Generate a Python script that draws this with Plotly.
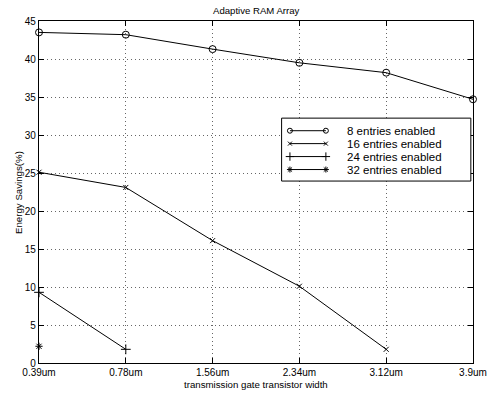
import plotly.graph_objects as go

widths = ["0.39um", "0.78um", "1.56um", "2.34um", "3.12um", "3.9um"]
s8 = [43.5, 43.2, 41.3, 39.5, 38.2, 34.7]
s16 = [25.1, 23.1, 16.1, 10.1, 1.8]
s24 = [9.3, 1.8]
s32 = [2.2]
names = ["8 entries enabled", "16 entries enabled", "24 entries enabled", "32 entries enabled"]
yticks = [0, 5, 10, 15, 20, 25, 30, 35, 40, 45]

symbols = ["circle-open", "x-thin-open", "cross-thin-open", "asterisk-open"]
sizes = [7, 5, 7, 6]
leg_sizes = [5, 4, 6, 5]
series = [s8, s16, s24, s32]
FONT = "Liberation Sans, Arial, Helvetica"

fig = go.Figure()
xpos = list(range(len(widths)))
for s, sym, sz, nm in zip(series, symbols, sizes, names):
    fig.add_trace(go.Scatter(
        x=xpos[:len(s)], y=s, mode="lines+markers", name=nm, showlegend=False,
        line=dict(color="black", width=1),
        marker=dict(symbol=sym, size=sz, color="black", line=dict(color="black", width=1)),
        cliponaxis=False,
    ))

# custom matlab-style legend drawn in an inset subplot (its white background hides the grid)
lx0, lx1, ltext = 0.044, 0.234, 0.34
rows = [0.80, 0.595, 0.389, 0.183]
for r, sym, sz, nm in zip(rows, symbols, leg_sizes, names):
    fig.add_trace(go.Scatter(
        x=[lx0, lx1], y=[r, r], xaxis="x2", yaxis="y2", mode="lines+markers", showlegend=False,
        line=dict(color="black", width=1),
        marker=dict(symbol=sym, size=sz, color="black", line=dict(color="black", width=1)),
        hoverinfo="skip", cliponaxis=False,
    ))
    fig.add_annotation(xref="x2", yref="y2", x=ltext, y=r, text=nm, showarrow=False,
                       xanchor="left", yanchor="middle", borderpad=0,
                       font=dict(family=FONT, size=11.5, color="black"))
fig.add_shape(type="rect", xref="paper", yref="paper", x0=0.559, x1=0.995, y0=0.532, y1=0.716,
              line=dict(color="black", width=1), fillcolor="rgba(0,0,0,0)", layer="above")

axis_common = dict(showline=True, linecolor="black", linewidth=1.2, mirror="ticks",
                   ticks="inside", ticklen=5, tickcolor="black", showgrid=True,
                   gridcolor="#666666", griddash="1px,3px", gridwidth=1, zeroline=False,
                   automargin=False,
                   tickfont=dict(family=FONT, size=10, color="black"))

fig.add_annotation(xref="paper", yref="paper", x=0.5, y=1.032, text="Adaptive RAM Array",
                   showarrow=False, xanchor="center", yanchor="middle",
                   font=dict(family=FONT, size=9.6, color="black"))
fig.add_annotation(xref="paper", yref="paper", x=0.5, y=-0.063,
                   text="transmission gate transistor width",
                   showarrow=False, xanchor="center", yanchor="middle",
                   font=dict(family=FONT, size=9.7, color="black"))
fig.add_annotation(xref="paper", yref="paper", x=-0.0484, y=0.5, text="Energy Savings(%)",
                   showarrow=False, xanchor="center", yanchor="middle", textangle=-90,
                   font=dict(family=FONT, size=9.7, color="black"))

fig.update_layout(
    width=489, height=393,
    margin=dict(l=39, r=16, t=21, b=30, autoexpand=False),
    paper_bgcolor="white", plot_bgcolor="white",
    xaxis=dict(range=[0, 5], tickvals=xpos, ticktext=widths, domain=[0, 1], **axis_common),
    yaxis=dict(range=[0, 45], tickvals=yticks, domain=[0, 1], **axis_common),
    xaxis2=dict(range=[0, 1], domain=[0.559, 0.995], visible=False, anchor="y2", fixedrange=True),
    yaxis2=dict(range=[0, 1], domain=[0.532, 0.716], visible=False, anchor="x2", fixedrange=True),
)

fig.write_html("out.html")
